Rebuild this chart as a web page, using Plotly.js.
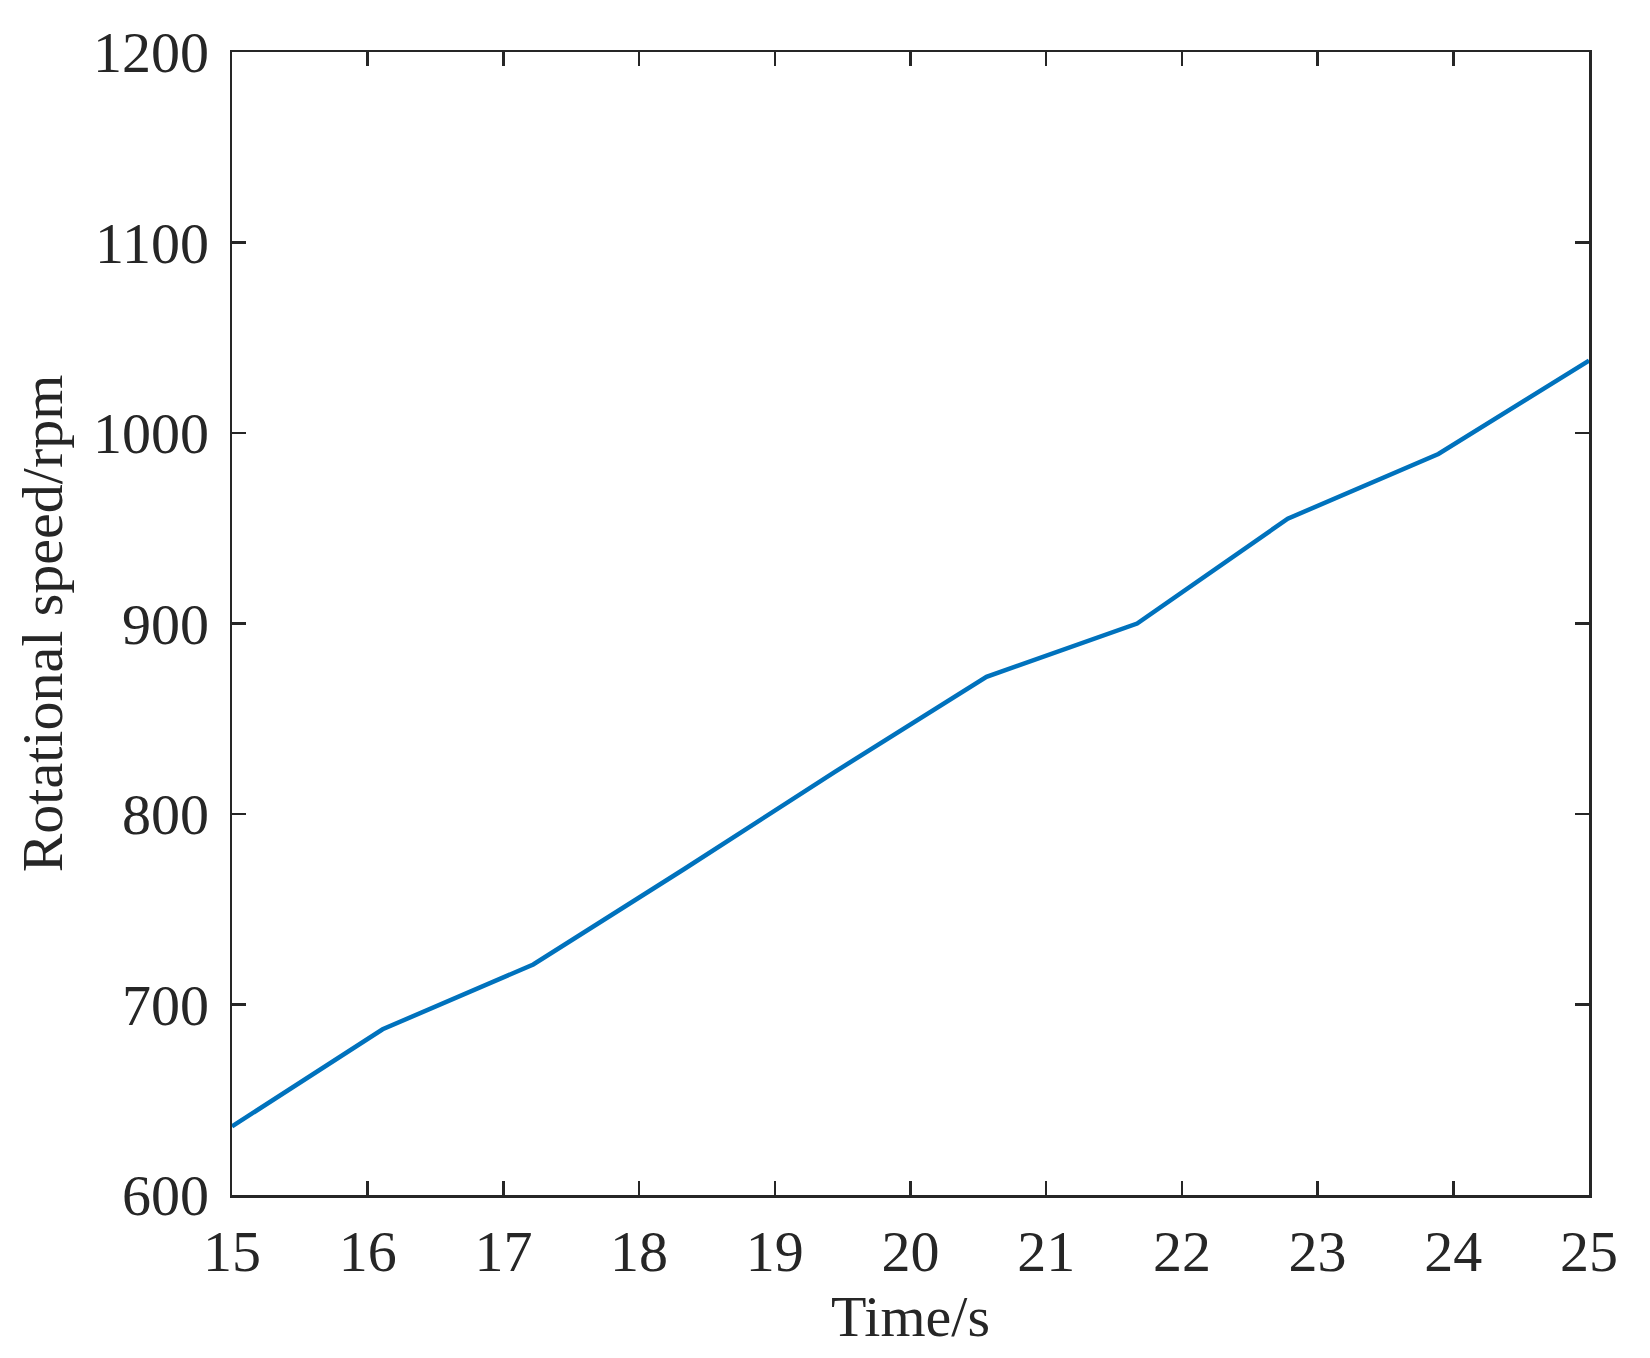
<!DOCTYPE html>
<html>
<head>
<meta charset="utf-8">
<script src="https://cdn.plot.ly/plotly-3.0.1.min.js"></script>
<style>html,body{margin:0;padding:0;background:#fff;}#chart{width:1650px;height:1358px;}</style>
</head>
<body>
<div id="chart"></div>
<script>
const timeS = [15, 16.11, 17.22, 18.33, 19.44, 20.56, 21.67, 22.78, 23.89, 25];
const speedRpm = [636, 687, 721, 771, 822, 872, 900, 955, 989, 1038];
const xTicks = [15, 16, 17, 18, 19, 20, 21, 22, 23, 24, 25];
const yTicks = [600, 700, 800, 900, 1000, 1100, 1200];
const xTitle = 'Time/s';
const yTitle = 'Rotational speed/rpm';

const fontFam = '"Liberation Serif", "Times New Roman", serif';
const axisCol = '#262626';

const axisCommon = {
  showgrid: false,
  zeroline: false,
  showline: true,
  linecolor: axisCol,
  linewidth: 2.5,
  mirror: 'ticks',
  ticks: 'inside',
  ticklen: 14,
  tickwidth: 2.5,
  tickcolor: axisCol,
  tickfont: {family: fontFam, size: 58, color: axisCol},
};

Plotly.newPlot('chart', [{
  x: timeS,
  y: speedRpm,
  type: 'scatter',
  mode: 'lines',
  line: {color: '#0072BD', width: 4.5},
  showlegend: false,
  hoverinfo: 'skip'
}], {
  width: 1650,
  height: 1358,
  margin: {l: 232, r: 61, t: 52, b: 163},
  paper_bgcolor: '#ffffff',
  plot_bgcolor: '#ffffff',
  xaxis: Object.assign({}, axisCommon, {
    range: [15, 25],
    tickvals: xTicks,
    ticktext: xTicks.map(String),
    ticklabelstandoff: 4,
    title: {text: xTitle, font: {family: fontFam, size: 58, color: axisCol}, standoff: 0}
  }),
  yaxis: Object.assign({}, axisCommon, {
    range: [600, 1200],
    tickvals: yTicks,
    ticktext: yTicks.map(String),
    ticklabelstandoff: 9,
    title: {text: yTitle, font: {family: fontFam, size: 58, color: axisCol}, standoff: 12}
  })
}, {displayModeBar: false, staticPlot: true});
</script>
</body>
</html>
